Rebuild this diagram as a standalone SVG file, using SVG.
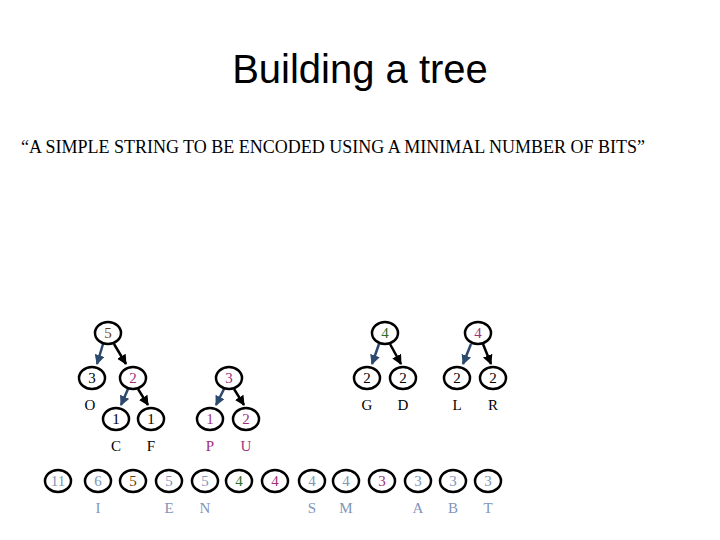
<svg xmlns="http://www.w3.org/2000/svg" width="720" height="540" viewBox="0 0 720 540">
<style>
.n ellipse{fill:#fff;stroke:#000;stroke-width:2.5}
text{font-family:"Liberation Serif",serif;font-size:15px;text-anchor:middle}
.t{font-family:"Liberation Sans",sans-serif;font-size:40px}
.b{fill:#7f95b8}.br{fill:#6b3c08}.g{fill:#2e6e1e}.p{fill:#a0307a}
.al{stroke:#2c4a6e;stroke-width:2.5;marker-end:url(#ab)}
.ar{stroke:#000;stroke-width:2.5;marker-end:url(#ak)}
</style>
<defs>
<marker id="ab" viewBox="0 0 10 10" refX="9" refY="5" markerWidth="4" markerHeight="4" orient="auto"><path d="M0,0L10,5L0,10z" fill="#2c4a6e"/></marker>
<marker id="ak" viewBox="0 0 10 10" refX="9" refY="5" markerWidth="4" markerHeight="4" orient="auto"><path d="M0,0L10,5L0,10z" fill="#000"/></marker>
</defs>
<rect width="720" height="540" fill="#fff"/>
<text class="t" x="360" y="83">Building a tree</text>
<text x="333" y="153" style="font-size:18px">“A SIMPLE STRING TO BE ENCODED USING A MINIMAL NUMBER OF BITS”</text>
<g id="connectors">
<line class="al" x1="103" y1="344" x2="97" y2="364"/><line class="ar" x1="114" y1="344" x2="126" y2="364"/>
<line class="al" x1="128" y1="389" x2="121" y2="405"/><line class="ar" x1="138" y1="389" x2="148" y2="405"/>
<line class="al" x1="224" y1="389" x2="216" y2="405"/><line class="ar" x1="234" y1="389" x2="244" y2="405"/>
<line class="al" x1="379" y1="344" x2="372" y2="364"/><line class="ar" x1="390" y1="344" x2="401" y2="364"/>
<line class="al" x1="471" y1="344" x2="463" y2="364"/><line class="ar" x1="483" y1="344" x2="491" y2="364"/>
</g>
<g id="t1" class="n">
<ellipse cx="108" cy="333" rx="13" ry="11"/><text x="108" y="338" class="br">5</text>
<ellipse cx="92" cy="378" rx="13" ry="11"/><text x="92" y="383">3</text><text x="90" y="410">O</text>
<ellipse cx="133" cy="378" rx="13" ry="11"/><text x="133" y="383" class="p">2</text>
<ellipse cx="116" cy="419" rx="13" ry="11"/><text x="116" y="424">1</text><text x="116" y="451">C</text>
<ellipse cx="151" cy="419" rx="13" ry="11"/><text x="151" y="424">1</text><text x="151" y="451">F</text>
</g>
<g id="t2" class="n">
<ellipse cx="229" cy="378" rx="13" ry="11"/><text x="229" y="383" class="p">3</text>
<ellipse cx="210" cy="419" rx="13" ry="11"/><text x="210" y="424" class="p">1</text><text x="210" y="451" class="p">P</text>
<ellipse cx="246" cy="419" rx="13" ry="11"/><text x="246" y="424" class="p">2</text><text x="246" y="451" class="p">U</text>
</g>
<g id="t3" class="n">
<ellipse cx="385" cy="333" rx="13" ry="11"/><text x="385" y="338" class="g">4</text>
<ellipse cx="367" cy="378" rx="13" ry="11"/><text x="367" y="383">2</text><text x="367" y="410">G</text>
<ellipse cx="403" cy="378" rx="13" ry="11"/><text x="403" y="383">2</text><text x="403" y="410">D</text>
</g>
<g id="t4" class="n">
<ellipse cx="478" cy="333" rx="13" ry="11"/><text x="478" y="338" class="p">4</text>
<ellipse cx="457" cy="378" rx="13" ry="11"/><text x="457" y="383">2</text><text x="457" y="410">L</text>
<ellipse cx="493" cy="378" rx="13" ry="11"/><text x="493" y="383">2</text><text x="493" y="410">R</text>
</g>
<g id="row" class="n">
<ellipse cx="58" cy="481" rx="13" ry="11"/><text x="58" y="486" class="b">11</text>
<ellipse cx="98" cy="481" rx="13" ry="11"/><text x="98" y="486" class="b">6</text><text x="98" y="513" class="b">I</text>
<ellipse cx="133" cy="481" rx="13" ry="11"/><text x="133" y="486" class="br">5</text>
<ellipse cx="169" cy="481" rx="13" ry="11"/><text x="169" y="486" class="b">5</text><text x="169" y="513" class="b">E</text>
<ellipse cx="205" cy="481" rx="13" ry="11"/><text x="205" y="486" class="b">5</text><text x="205" y="513" class="b">N</text>
<ellipse cx="239" cy="481" rx="13" ry="11"/><text x="239" y="486" class="g">4</text>
<ellipse cx="275" cy="481" rx="13" ry="11"/><text x="275" y="486" class="p">4</text>
<ellipse cx="312" cy="481" rx="13" ry="11"/><text x="312" y="486" class="b">4</text><text x="312" y="513" class="b">S</text>
<ellipse cx="346" cy="481" rx="13" ry="11"/><text x="346" y="486" class="b">4</text><text x="346" y="513" class="b">M</text>
<ellipse cx="382" cy="481" rx="13" ry="11"/><text x="382" y="486" class="p">3</text>
<ellipse cx="418" cy="481" rx="13" ry="11"/><text x="418" y="486" class="b">3</text><text x="418" y="513" class="b">A</text>
<ellipse cx="453" cy="481" rx="13" ry="11"/><text x="453" y="486" class="b">3</text><text x="453" y="513" class="b">B</text>
<ellipse cx="488" cy="481" rx="13" ry="11"/><text x="488" y="486" class="b">3</text><text x="488" y="513" class="b">T</text>
</g>
</svg>
